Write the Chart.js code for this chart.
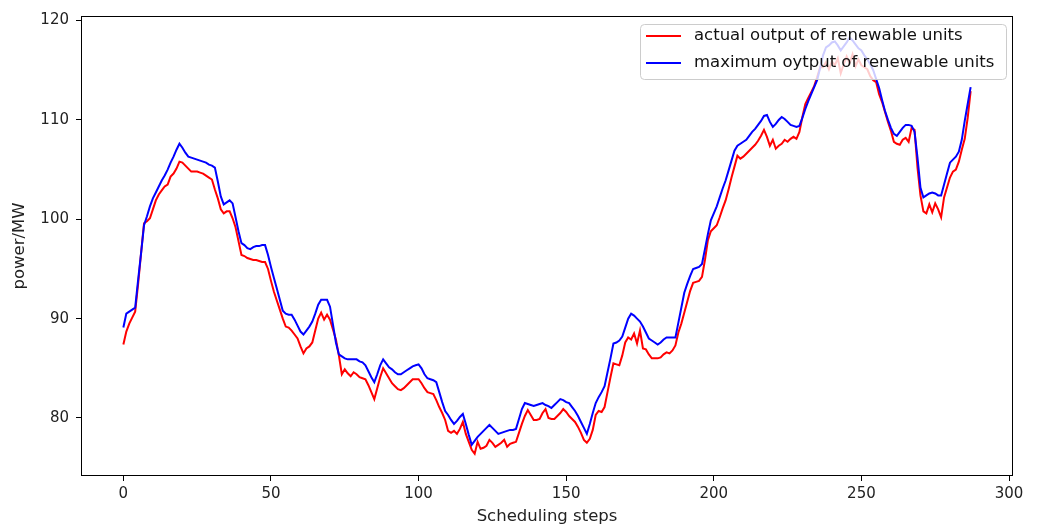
<!DOCTYPE html>
<html>
<head>
<meta charset="utf-8">
<script src="https://cdn.jsdelivr.net/npm/chart.js@4/dist/chart.umd.min.js"></script>
<style>
  body { margin: 0; background: #fff; }
  #wrap { width: 1041px; height: 529px; }
</style>
</head>
<body>
<div id="wrap"><canvas id="powerChart" width="1041" height="529"></canvas></div>
<script>
// scheduling steps 0..287
const steps = Array.from({ length: 288 }, (_, i) => i);

const actualOutput = [
  87.4, 88.7, 89.5, 90.1, 90.7, 93.5, 96.6, 99.6, 99.8, 100.1,
  101.0, 101.9, 102.5, 102.9, 103.3, 103.5, 104.3, 104.6, 105.1, 105.8,
  105.7, 105.4, 105.1, 104.8, 104.8, 104.8, 104.7, 104.6, 104.4, 104.2,
  104.0, 103.0, 102.1, 101.0, 100.6, 100.8, 100.8, 100.1, 99.2, 97.8,
  96.4, 96.3, 96.1, 96.0, 95.9, 95.9, 95.8, 95.7, 95.7, 95.0,
  93.8, 92.7, 91.8, 90.9, 90.0, 89.2, 89.1, 88.8, 88.4, 88.0,
  87.2, 86.5, 87.0, 87.2, 87.6, 88.8, 90.0, 90.6, 89.9, 90.4,
  89.9, 88.9, 87.9, 86.3, 84.4, 84.9, 84.5, 84.2, 84.6, 84.4,
  84.1, 84.0, 83.9, 83.3, 82.6, 81.9, 83.0, 84.1, 85.0, 84.5,
  84.0, 83.5, 83.2, 82.9, 82.8, 83.0, 83.3, 83.6, 83.9, 83.9,
  83.9, 83.5, 83.0, 82.6, 82.5, 82.4, 81.8, 81.1, 80.5, 79.8,
  78.7, 78.5, 78.7, 78.4, 78.9, 79.6, 78.4, 77.6, 76.8, 76.4,
  77.6, 76.9, 77.0, 77.2, 77.8, 77.5, 77.1, 77.3, 77.5, 77.8,
  77.1, 77.4, 77.5, 77.6, 78.5, 79.4, 80.2, 80.8, 80.3, 79.8,
  79.8, 79.9, 80.5, 80.9, 80.0, 79.9, 79.9, 80.2, 80.5, 80.9,
  80.6, 80.2, 79.9, 79.6, 79.1, 78.5, 77.8, 77.5, 77.9, 78.8,
  80.3, 80.7, 80.6, 81.1, 82.6, 84.1, 85.5, 85.4, 85.3, 86.3,
  87.6, 88.1, 87.9, 88.5, 87.5, 88.8, 87.0, 86.9, 86.4, 86.0,
  86.0, 86.0, 86.1, 86.4, 86.6, 86.5, 86.8, 87.3, 88.6, 89.5,
  90.6, 91.7, 92.8, 93.6, 93.7, 93.8, 94.2, 95.9, 97.9, 98.8,
  99.1, 99.4, 100.2, 101.1, 101.9, 103.0, 104.2, 105.3, 106.4, 106.1,
  106.3, 106.6, 106.9, 107.2, 107.5, 107.9, 108.4, 109.0, 108.3, 107.4,
  108.0, 107.1, 107.4, 107.6, 108.0, 107.8, 108.1, 108.3, 108.1, 108.8,
  110.3, 111.6, 112.2, 112.8, 113.4, 114.3, 115.3, 115.3, 115.8, 115.1,
  115.9, 115.5, 116.2, 114.7, 115.6, 116.4, 115.7, 116.6, 115.4, 116.1,
  115.5, 115.3, 115.1, 114.4, 114.0, 113.8, 112.6, 111.8, 110.8, 109.8,
  108.9, 107.8, 107.6, 107.5, 108.0, 108.2, 107.8, 109.2, 109.0, 105.2,
  102.4, 100.8, 100.6, 101.5, 100.7, 101.6, 101.0, 100.2, 102.2, 103.2,
  104.2, 104.8, 105.0, 105.8, 107.0, 108.1, 110.2, 112.9
];

const maximumOutput = [
  89.1, 90.5, 90.7, 90.9, 91.1, 93.9, 96.6, 99.4, 100.3, 101.3,
  102.1, 102.7, 103.3, 103.9, 104.4, 105.0, 105.7, 106.3, 107.0, 107.6,
  107.2, 106.7, 106.3, 106.2, 106.1, 106.0, 105.9, 105.8, 105.7, 105.5,
  105.4, 105.2, 103.8, 102.3, 101.5, 101.7, 101.9, 101.6, 100.2, 98.8,
  97.6, 97.4, 97.1, 97.0, 97.2, 97.3, 97.3, 97.4, 97.4, 96.4,
  95.2, 94.1, 93.0, 91.9, 90.8, 90.5, 90.4, 90.4, 89.9, 89.3,
  88.7, 88.4, 88.8, 89.2, 89.7, 90.5, 91.4, 91.9, 91.9, 91.9,
  91.2, 89.4, 87.6, 86.4, 86.2, 86.0, 85.9, 85.9, 85.9, 85.9,
  85.7, 85.6, 85.3, 84.7, 84.1, 83.6, 84.4, 85.3, 85.9, 85.5,
  85.1, 84.9, 84.6, 84.4, 84.4, 84.6, 84.8, 85.0, 85.2, 85.3,
  85.4, 85.0, 84.4, 84.0, 83.9, 83.8, 83.6, 82.6, 81.6, 80.7,
  80.3, 79.8, 79.4, 79.7, 80.1, 80.4, 79.4, 78.3, 77.3, 77.7,
  78.1, 78.4, 78.7, 79.0, 79.3, 79.0, 78.7, 78.4, 78.5, 78.6,
  78.7, 78.8, 78.8, 78.9, 79.9, 80.9, 81.5, 81.4, 81.3, 81.2,
  81.3, 81.4, 81.5, 81.3, 81.2, 81.0, 81.3, 81.6, 81.9, 81.8,
  81.6, 81.5, 81.1, 80.7, 80.2, 79.6, 79.0, 78.4, 79.4, 80.5,
  81.5, 82.1, 82.6, 83.2, 84.6, 86.0, 87.5, 87.6, 87.8, 88.2,
  89.1, 90.0, 90.5, 90.3, 90.0, 89.7, 89.2, 88.6, 88.0, 87.8,
  87.6, 87.4, 87.6, 87.9, 88.1, 88.1, 88.1, 88.1, 89.6, 91.1,
  92.6, 93.5, 94.3, 95.0, 95.1, 95.2, 95.5, 97.0, 98.5, 99.9,
  100.6, 101.3, 102.2, 103.1, 103.9, 104.9, 105.9, 106.9, 107.4, 107.6,
  107.8, 108.0, 108.4, 108.8, 109.1, 109.5, 109.9, 110.4, 110.5, 109.8,
  109.3, 109.6, 110.0, 110.3, 110.1, 109.8, 109.5, 109.4, 109.3, 109.4,
  110.2, 111.1, 111.9, 112.6, 113.3, 114.0, 115.2, 116.5, 117.3, 117.5,
  117.8, 117.9, 117.5, 117.0, 117.4, 117.8, 118.3, 118.0, 117.6, 117.2,
  117.0, 116.5, 116.1, 115.6, 115.0, 114.1, 113.2, 112.0, 110.9, 110.0,
  109.2, 108.6, 108.4, 108.8, 109.2, 109.5, 109.5, 109.4, 108.8, 106.2,
  103.2, 102.2, 102.4, 102.6, 102.7, 102.6, 102.4, 102.4, 103.5, 104.6,
  105.7, 106.0, 106.3, 106.8, 108.0, 109.9, 111.6, 113.3
];

const xTicks = [0, 50, 100, 150, 200, 250, 300];
const yTicks = [80, 90, 100, 110, 120];

const FONT = 'DejaVu Sans';

// frame round the plot + matplotlib style legend inside it
const framePlugin = {
  id: 'frame',
  afterDatasetsDraw(chart) {
    const { ctx, chartArea: a } = chart;
    ctx.save();
    ctx.strokeStyle = '#000';
    ctx.lineWidth = 1;
    ctx.strokeRect(Math.round(a.left) + 0.5, Math.round(a.top) + 0.5,
      Math.round(a.right - a.left) - 1, Math.round(a.bottom - a.top) - 1);

    // legend box
    const bx = a.right - 373, by = a.top + 8, bw = 366, bh = 55;
    ctx.fillStyle = 'rgba(255,255,255,0.8)';
    ctx.strokeStyle = '#cccccc';
    ctx.beginPath();
    ctx.roundRect(bx + 0.5, by + 0.5, bw, bh, 4);
    ctx.fill();
    ctx.stroke();

    ctx.font = '16.5px "' + FONT + '"';
    ctx.textBaseline = 'middle';
    chart.data.datasets.forEach((ds, i) => {
      const y = by + 12 + i * 27;
      ctx.strokeStyle = ds.borderColor;
      ctx.lineWidth = 2;
      ctx.beginPath();
      ctx.moveTo(bx + 6, y);
      ctx.lineTo(bx + 41, y);
      ctx.stroke();
      ctx.fillStyle = '#111';
      ctx.fillText(ds.label, bx + 54, y);
    });
    ctx.restore();
  }
};

const ctx = document.getElementById('powerChart').getContext('2d');

new Chart(ctx, {
  type: 'line',
  data: {
    datasets: [
      {
        label: 'actual output of renewable units',
        data: steps.map((s, i) => ({ x: s, y: actualOutput[i] })),
        borderColor: '#ff0000',
        borderWidth: 2,
        pointRadius: 0,
        tension: 0,
        order: 1
      },
      {
        label: 'maximum oytput of renewable units',
        data: steps.map((s, i) => ({ x: s, y: maximumOutput[i] })),
        borderColor: '#0000ff',
        borderWidth: 2,
        pointRadius: 0,
        tension: 0,
        order: 0
      }
    ]
  },
  options: {
    responsive: false,
    animation: false,
    layout: { padding: { left: 0, right: 28, top: 13, bottom: 0 } },
    scales: {
      x: {
        type: 'linear',
        min: -14.35,
        max: 301.35,
        afterBuildTicks: s => { s.ticks = xTicks.map(v => ({ value: v })); },
        afterFit: s => { s.height = 53; },
        grid: { drawOnChartArea: false, drawTicks: true, tickLength: 5, color: '#000' },
        border: { display: false },
        ticks: {
          color: '#222',
          padding: 4,
          maxRotation: 0,
          font: { family: FONT, size: 15 },
          callback: v => v
        },
        title: {
          display: true,
          text: 'Scheduling steps',
          color: '#222',
          font: { family: FONT, size: 16.5 },
          padding: { top: 0, bottom: 2 }
        }
      },
      y: {
        min: 74.16,
        max: 120.46,
        afterBuildTicks: s => { s.ticks = yTicks.map(v => ({ value: v })); },
        afterFit: s => { s.width = 81; },
        grid: { drawOnChartArea: false, drawTicks: true, tickLength: 5, color: '#000' },
        border: { display: false },
        ticks: {
          color: '#222',
          padding: 7,
          font: { family: FONT, size: 15 },
          callback: v => v
        },
        title: {
          display: true,
          text: 'power/MW',
          color: '#222',
          font: { family: FONT, size: 16.5 },
          padding: { top: 10, bottom: 0 }
        }
      }
    },
    plugins: {
      legend: { display: false },
      tooltip: { enabled: false }
    }
  },
  plugins: [framePlugin]
});
</script>
</body>
</html>
